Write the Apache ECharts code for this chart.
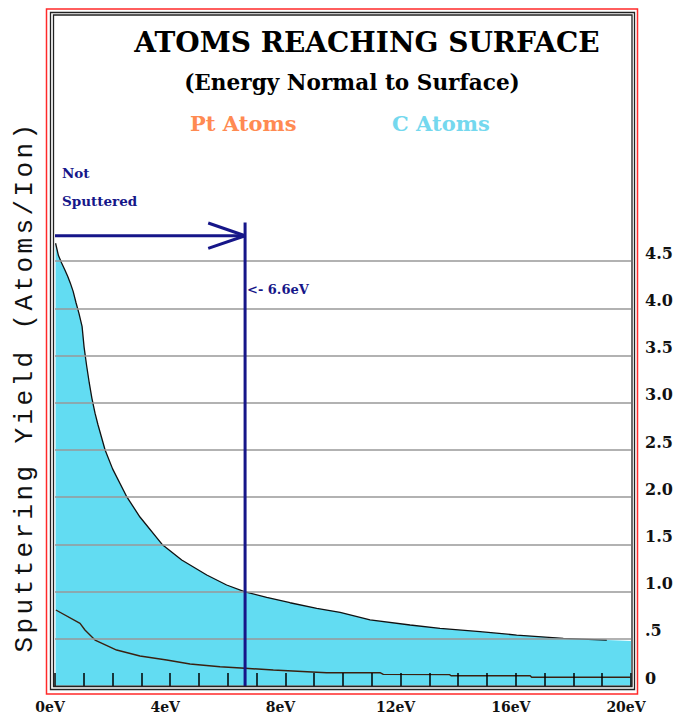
<!DOCTYPE html>
<html><head><meta charset="utf-8">
<script src="https://cdn.jsdelivr.net/npm/echarts/dist/echarts.min.js"></script>
<style>html,body{margin:0;padding:0;background:#fff}#c{width:678px;height:721px}</style>
</head><body><div id="c"></div>
<script>
// ---- data ----
const cEnergy = [0.02,0.12,0.23,0.34,0.44,0.53,0.63,0.73,0.83,0.94,1.01,1.10,1.19,1.28,1.39,1.49,1.74,2.0,2.5,2.95,3.72,4.4,5.27,5.96,6.6,7.35,8.16,9.09,9.9,10.94,12.33,13.37,14.76,16.03,17.65,19.16,20.0];
const cYield  = [4.69,4.56,4.48,4.41,4.34,4.27,4.18,4.06,3.95,3.81,3.59,3.39,3.21,3.05,2.89,2.77,2.5,2.3,2.0,1.79,1.5,1.335,1.176,1.07,0.996,0.94,0.882,0.823,0.78,0.70,0.646,0.611,0.575,0.54,0.505,0.487,0.477];
const ptEnergy = [0.03,0.87,1.04,1.39,2.14,2.95,3.88,4.69,5.73,6.6,7.58,9.43,11.3,11.4,13.7,13.75,16.5,16.55,19.97];
const ptYield  = [0.805,0.664,0.593,0.487,0.381,0.318,0.275,0.233,0.204,0.188,0.169,0.141,0.14,0.123,0.12,0.109,0.109,0.092,0.092];
const xLabelValues = [0,4,8,12,16,20];
const xTickLabels  = ['0eV','4eV','8eV','12eV','16eV','20eV'];
const yTickValues  = [0,0.5,1,1.5,2,2.5,3,3.5,4,4.5];
const yTickLabels  = ['0','.5','1.0','1.5','2.0','2.5','3.0','3.5','4.0','4.5'];
const thresholdEnergy = 6.6;
const thresholdTop = 4.91;
const arrowYield = 4.77;
const arrowHeadEnergy = 5.32;
const arrowHeadSpread = 0.135;
const yAxisTitle = 'Sputtering Yield (Atoms/Ion)';

const zip = (a,b) => a.map((v,i)=>[v,b[i]]);
const navy = '#161689';
const serif = 'DejaVu Serif';

const chart = echarts.init(document.getElementById('c'), null, {renderer: 'svg'});
const cPairs = zip(cEnergy, cYield);
chart.setOption({
  animation: false,
  grid: {left: 55, right: 47, top: 261.2, bottom: 35},
  xAxis: {
    type: 'value', min: 0, max: 20, interval: 1, z: 5,
    axisLine: {show: false},
    splitLine: {show: false},
    axisTick: {show: true, inside: true, length: 13, lineStyle: {color: '#000', width: 1.5}},
    axisLabel: {
      margin: 14, color: '#111', fontFamily: serif, fontWeight: 'bold', fontSize: 14,
      padding: [0, 10, 0, 0],
      formatter: v => { const i = xLabelValues.indexOf(Math.round(v*1000)/1000); return i >= 0 ? xTickLabels[i] : ''; }
    }
  },
  yAxis: {
    type: 'value', position: 'right', min: 0, max: 4.5, interval: 0.5, z: 5,
    axisLine: {show: false}, axisTick: {show: false},
    splitLine: {show: true, lineStyle: {color: '#999', width: 1.5}},
    axisLabel: {
      margin: 14, align: 'left', verticalAlign: 'bottom', lineHeight: 16,
      color: '#111', fontFamily: serif, fontWeight: 'bold', fontSize: 16,
      formatter: v => { const i = yTickValues.indexOf(Math.round(v*1000)/1000); return i >= 0 ? yTickLabels[i] : ''; }
    }
  },
  series: [
    {type: 'line', data: cPairs, symbol: 'none', clip: false, silent: true, z: 1,
     lineStyle: {width: 0}, areaStyle: {color: '#62DCF2', opacity: 1}},
    {type: 'line', data: cPairs.slice(0, -1), symbol: 'none', clip: false, silent: true, z: 3,
     lineStyle: {color: '#111', width: 1.3}},
    {type: 'line', data: zip(ptEnergy, ptYield), symbol: 'none', clip: false, silent: true, z: 3,
     lineStyle: {color: '#3a2010', width: 1.4}},
    {type: 'line', data: [[thresholdEnergy, 0], [thresholdEnergy, thresholdTop]], symbol: 'none', clip: false, silent: true, z: 6,
     lineStyle: {color: navy, width: 3}},
    {type: 'line', data: [[0, arrowYield], [thresholdEnergy, arrowYield]], symbol: 'none', clip: false, silent: true, z: 6,
     lineStyle: {color: navy, width: 3}},
    {type: 'line', data: [[arrowHeadEnergy, arrowYield + arrowHeadSpread], [thresholdEnergy, arrowYield], [arrowHeadEnergy, arrowYield - arrowHeadSpread]],
     symbol: 'none', clip: false, silent: true, z: 6, lineStyle: {color: navy, width: 3}}
  ],
  graphic: [
    {type: 'rect', z: 10, silent: true, shape: {x: 46.5, y: 9, width: 591, height: 685}, style: {fill: 'none', stroke: '#ff2a2a', lineWidth: 1.5}},
    {type: 'rect', z: 10, silent: true, shape: {x: 50.5, y: 12.5, width: 584, height: 677}, style: {fill: 'none', stroke: '#222', lineWidth: 1.3}},
    {type: 'rect', z: 10, silent: true, shape: {x: 53.5, y: 15, width: 578.5, height: 671.5}, style: {fill: 'none', stroke: '#222', lineWidth: 1.3}},
    {type: 'text', z: 10, x: 367, y: 42, style: {text: 'ATOMS REACHING SURFACE', font: 'bold 28px DejaVu Serif', fill: '#000', align: 'center', verticalAlign: 'middle'}},
    {type: 'text', z: 10, x: 352, y: 82, style: {text: '(Energy Normal to Surface)', font: 'bold 21.6px DejaVu Serif', fill: '#000', align: 'center', verticalAlign: 'middle'}},
    {type: 'text', z: 10, x: 190, y: 123, style: {text: 'Pt Atoms', font: 'bold 21px DejaVu Serif', fill: '#FF8A52', align: 'left', verticalAlign: 'middle'}},
    {type: 'text', z: 10, x: 392, y: 123, style: {text: 'C Atoms', font: 'bold 21px DejaVu Serif', fill: '#74D8EE', align: 'left', verticalAlign: 'middle'}},
    {type: 'text', z: 10, x: 62, y: 173, style: {text: 'Not', font: 'bold 13.5px DejaVu Serif', fill: navy, align: 'left', verticalAlign: 'middle'}},
    {type: 'text', z: 10, x: 62, y: 201, style: {text: 'Sputtered', font: 'bold 13.5px DejaVu Serif', fill: navy, align: 'left', verticalAlign: 'middle'}},
    {type: 'text', z: 10, x: 247, y: 289, style: {text: '<- 6.6eV', font: 'bold 13px DejaVu Serif', fill: navy, align: 'left', verticalAlign: 'middle'}},
    {type: 'text', z: 10, x: 25, y: 386.5, rotation: Math.PI/2, style: {text: yAxisTitle, font: '26px Liberation Mono', fill: '#111', align: 'center', verticalAlign: 'middle'}}
  ]
});
// font families in the SVG output, and wider character spacing for the vertical axis title
document.querySelectorAll('#c text').forEach(t => {
  if (t.textContent === yAxisTitle) {
    t.style.fontFamily = '"Liberation Mono", monospace';
    t.style.letterSpacing = '3.4px';
  } else {
    t.style.fontFamily = '"DejaVu Serif", serif';
  }
});
</script></body></html>
